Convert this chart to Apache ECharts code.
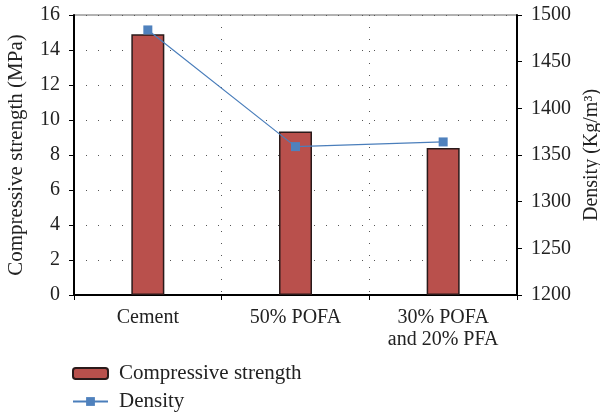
<!DOCTYPE html>
<html>
<head>
<meta charset="utf-8">
<script src="https://cdn.jsdelivr.net/npm/echarts@6/dist/echarts.min.js"></script>
<style>
  html, body { margin: 0; padding: 0; background: #fff; }
  #chart { width: 600px; height: 413px; }
</style>
</head>
<body>
<div id="chart"></div>
<script>
const categories = ['Cement', '50% POFA', '30% POFA\nand 20% PFA']
const strength = [14.9, 9.35, 8.4]
const density = [1484, 1359, 1364]

const FONT = 'Liberation Serif'
const chart = echarts.init(document.getElementById('chart'))

const legendBase = {
  orient: 'vertical', left: 67,
  itemWidth: 35, itemHeight: 11,
  textStyle: { fontFamily: FONT, fontSize: 21, color: '#222', padding: [0, 0, 0, 6] },
}

chart.setOption({
  animation: false,
  textStyle: { fontFamily: FONT },
  grid: {
    left: 74, right: 83, top: 15, bottom: 118,
    outerBoundsMode: 'none',
    show: true, borderColor: '#666', borderWidth: 1,
  },
  legend: [
    { ...legendBase, top: 358, data: ['Compressive strength'] },
    { ...legendBase, top: 386, data: ['Density'] },
  ],
  xAxis: {
    type: 'category', data: categories,
    axisLine: { lineStyle: { color: '#000', width: 2 } },
    axisTick: { show: true, length: 5, lineStyle: { color: '#000' } },
    axisLabel: { interval: 0, fontFamily: FONT, fontSize: 20, color: '#222', margin: 12, lineHeight: 22 },
    splitLine: { show: true, lineStyle: { color: '#555', type: [1, 11] } },
  },
  yAxis: [{
    type: 'value', min: 0, max: 16, interval: 2,
    name: 'Compressive strength (MPa)', nameLocation: 'middle', nameGap: 47,
    nameTextStyle: { fontFamily: FONT, fontSize: 21, color: '#222' },
    axisLine: { show: true, lineStyle: { color: '#000', width: 2 } },
    axisTick: { show: true, length: 5, lineStyle: { color: '#000' } },
    axisLabel: { fontFamily: FONT, fontSize: 20, color: '#222', margin: 14 },
    splitLine: { show: true, lineStyle: { color: '#555', type: [1, 11] } },
  }, {
    type: 'value', min: 1200, max: 1500, interval: 50,
    name: 'Density (Kg/m³)', nameLocation: 'middle', nameGap: 56, nameRotate: 90,
    nameTextStyle: { fontFamily: FONT, fontSize: 20, color: '#222' },
    axisLine: { show: true, lineStyle: { color: '#000', width: 2 } },
    axisTick: { show: true, length: 5, lineStyle: { color: '#000' } },
    axisLabel: { fontFamily: FONT, fontSize: 20, color: '#222', margin: 14, formatter: v => String(v) },
    splitLine: { show: false },
  }],
  series: [{
    name: 'Compressive strength', type: 'bar', data: strength,
    barWidth: 33,
    itemStyle: { color: '#b9504c', borderColor: '#2a1a1a', borderWidth: 1.5 },
  }, {
    name: 'Density', type: 'line', yAxisIndex: 1, data: density,
    symbol: 'rect', symbolSize: 9,
    lineStyle: { color: '#4a7ebb', width: 1.2 },
    itemStyle: { color: '#4f81bd' },
  }],
})
</script>
</body>
</html>
